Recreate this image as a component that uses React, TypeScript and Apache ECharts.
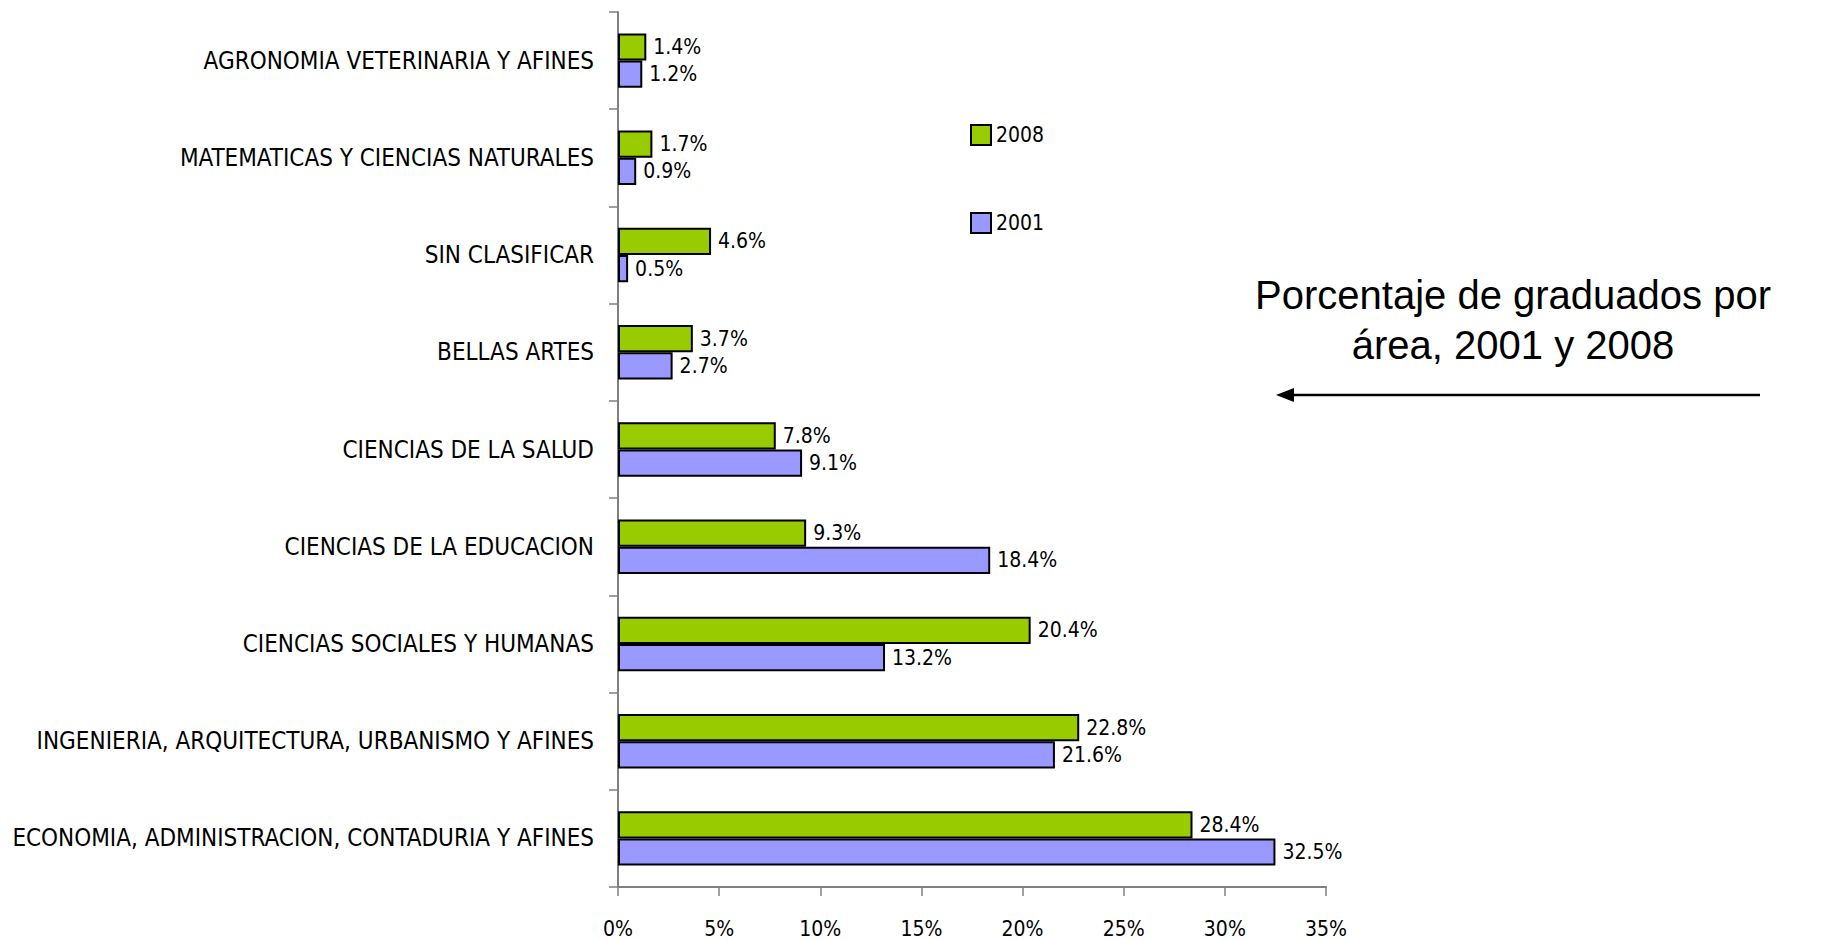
import React, { useEffect, useRef } from "react";
import * as echarts from "echarts";

const categories = [
  "AGRONOMIA VETERINARIA Y AFINES",
  "MATEMATICAS Y CIENCIAS NATURALES",
  "SIN CLASIFICAR",
  "BELLAS ARTES",
  "CIENCIAS DE LA SALUD",
  "CIENCIAS DE LA EDUCACION",
  "CIENCIAS SOCIALES Y HUMANAS",
  "INGENIERIA, ARQUITECTURA, URBANISMO Y AFINES",
  "ECONOMIA, ADMINISTRACION, CONTADURIA Y AFINES",
];
const values2008 = [1.4, 1.7, 4.6, 3.7, 7.8, 9.3, 20.4, 22.8, 28.4];
const values2001 = [1.2, 0.9, 0.5, 2.7, 9.1, 18.4, 13.2, 21.6, 32.5];
const xTicks = [0, 5, 10, 15, 20, 25, 30, 35];
const titleText = "Porcentaje de graduados por\nárea, 2001 y 2008";

const NARROW = "'Liberation Sans Narrow', 'Arial Narrow', 'DejaVu Sans Condensed', sans-serif";
const SANS = "'Liberation Sans', Arial, sans-serif";

export default function App() {
  const ref = useRef<HTMLDivElement>(null);
  useEffect(() => {
    if (!ref.current) return;
    const chart = echarts.init(ref.current, undefined, { renderer: "svg" });
    const labelStyle = {
      show: true,
      position: "right" as const,
      distance: 7,
      color: "#000",
      fontFamily: NARROW,
      fontSize: 21,
      formatter: (p: any) => `${Number(p.value).toFixed(1)}%`,
    };
    chart.setOption({
      animation: false,
      backgroundColor: "#fff",
      title: {
        text: titleText,
        left: 1508,
        top: 265,
        textAlign: "center",
        textStyle: {
          fontFamily: SANS,
          fontSize: 40,
          fontWeight: "normal",
          lineHeight: 50,
          color: "#000",
        },
      },
      legend: {
        orient: "vertical",
        left: 965,
        top: 119,
        icon: "rect",
        itemWidth: 20,
        itemHeight: 20,
        itemGap: 66,
        textStyle: { fontFamily: NARROW, fontSize: 21, color: "#000" },
        data: ["2008", "2001"],
      },
      grid: {
        left: 618,
        right: 496,
        top: 12,
        bottom: 53,
        containLabel: false,
        outerBoundsMode: "none",
      },
      xAxis: {
        type: "value",
        min: xTicks[0],
        max: xTicks[xTicks.length - 1],
        interval: 5,
        splitLine: { show: false },
        axisLine: { show: true, lineStyle: { color: "#808080", width: 2 } },
        axisTick: { show: true, length: 9, lineStyle: { color: "#808080", width: 1.5 } },
        axisLabel: {
          margin: 31,
          color: "#000",
          fontFamily: NARROW,
          fontSize: 21,
          formatter: "{value}%",
        },
      },
      yAxis: {
        type: "category",
        inverse: true,
        data: categories,
        axisLine: { show: true, lineStyle: { color: "#808080", width: 2 } },
        axisTick: { show: true, length: 9, lineStyle: { color: "#808080", width: 1.5 } },
        axisLabel: {
          margin: 24,
          color: "#000",
          fontFamily: NARROW,
          fontSize: 24,
        },
      },
      series: [
        {
          name: "2008",
          type: "bar",
          data: values2008,
          barGap: "0%",
          barCategoryGap: "44%",
          itemStyle: { color: "#99CC00", borderColor: "#000", borderWidth: 2 },
          label: labelStyle,
        },
        {
          name: "2001",
          type: "bar",
          data: values2001,
          barGap: "0%",
          barCategoryGap: "44%",
          itemStyle: { color: "#9999FF", borderColor: "#000", borderWidth: 2 },
          label: labelStyle,
        },
      ],
      graphic: [
        {
          type: "line",
          shape: { x1: 1760, y1: 395, x2: 1290, y2: 395 },
          style: { stroke: "#000", lineWidth: 2.5 },
        },
        {
          type: "polygon",
          shape: { points: [[1276, 395], [1294, 388], [1294, 402]] },
          style: { fill: "#000" },
        },
      ],
    });
    return () => chart.dispose();
  }, []);
  return (
    <div
      ref={ref}
      style={{ position: "fixed", left: 0, top: 0, width: 1822, height: 940 }}
    />
  );
}
